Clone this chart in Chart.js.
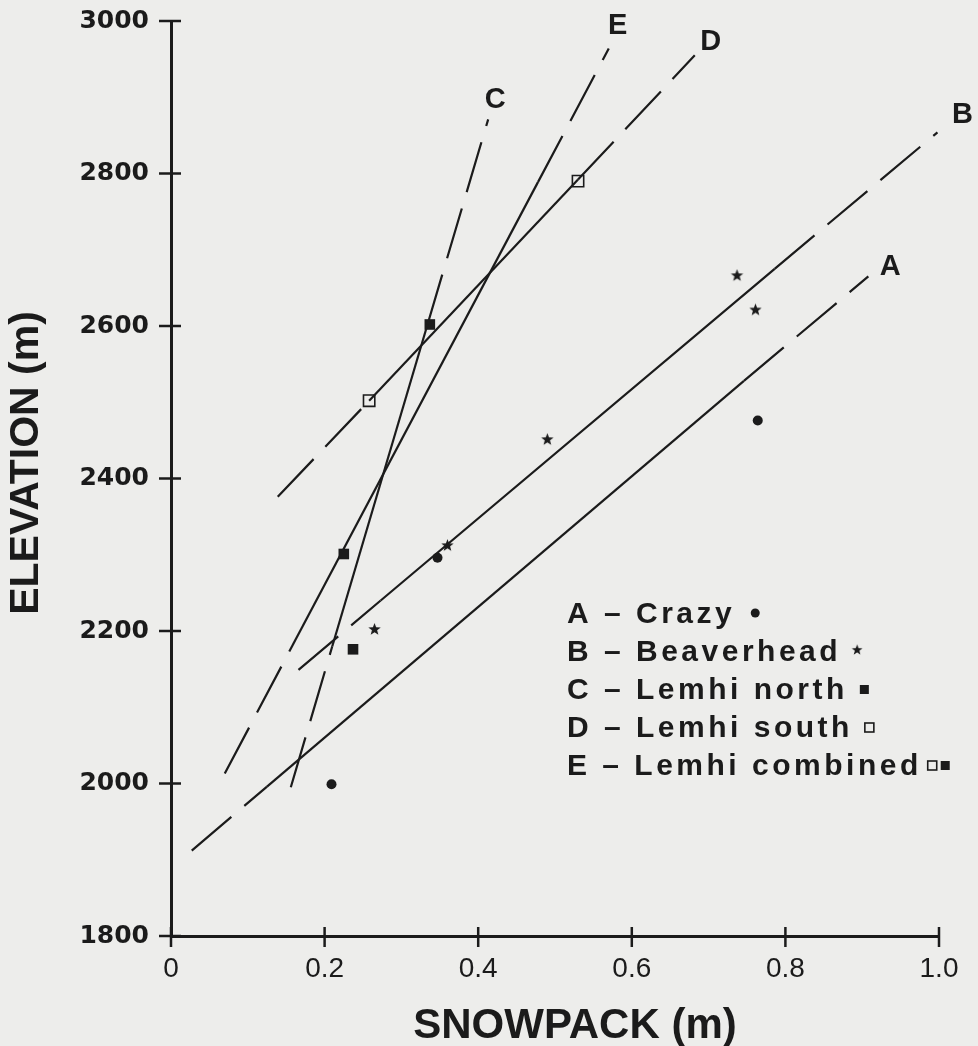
<!DOCTYPE html>
<html>
<head>
<meta charset="utf-8">
<script src="https://cdn.jsdelivr.net/npm/chart.js@4.4.0/dist/chart.umd.min.js"></script>
<style>
  html, body { margin: 0; padding: 0; background: #ededeb; }
  #wrap { width: 978px; height: 1046px; }
</style>
</head>
<body>
<div id="wrap"><canvas id="snow" width="978" height="1046"></canvas></div>
<script>
// observed sites: snowpack (m) against elevation (m)
const crazyX = [0.209, 0.347, 0.764];
const crazyY = [1999, 2296, 2476];
const beaverX = [0.265, 0.360, 0.490, 0.737, 0.761];
const beaverY = [2202, 2312, 2451, 2666, 2621];
const northX = [0.225, 0.237, 0.337];
const northY = [2301, 2176, 2602];
const southX = [0.258, 0.530];
const southY = [2502, 2790];

// fitted lines, each: dashed start, solid start, solid end, dashed end
const lineNames = ['A', 'B', 'C', 'D', 'E'];
const lineX = [
  [0.027, 0.125, 0.746, 0.908],
  [0.166, 0.273, 0.786, 0.998],
  [0.156, 0.210, 0.334, 0.413],
  [0.139, 0.258, 0.530, 0.682],
  [0.070, 0.154, 0.478, 0.570]
];
const lineY = [
  [1912, 1996, 2528, 2665],
  [2149, 2240, 2675, 2854],
  [1995, 2180, 2602, 2871],
  [2376, 2502, 2792, 2955],
  [2013, 2173, 2789, 2964]
];

const xTicks = [0, 0.2, 0.4, 0.6, 0.8, 1.0];
const xTickLabels = ['0', '0.2', '0.4', '0.6', '0.8', '1.0'];
const yTicks = [1800, 2000, 2200, 2400, 2600, 2800, 3000];

const legendItems = ['A – Crazy', 'B – Beaverhead', 'C – Lemhi north', 'D – Lemhi south', 'E – Lemhi combined'];

const INK = '#1b1b1b';
const SANS = '"Liberation Sans", Arial, sans-serif';

// little filled five point star used as the Beaverhead marker
function makeStar(r) {
    const s = Math.ceil(r * 2 + 2);
    const c = document.createElement('canvas');
    c.width = s;
    c.height = s;
    const g = c.getContext('2d');
    g.fillStyle = INK;
    g.beginPath();
    for (let i = 0; i < 10; i++) {
        const rad = i % 2 ? r * 0.42 : r;
        const a = -Math.PI / 2 + i * Math.PI / 5;
        g.lineTo(s / 2 + rad * Math.cos(a), s / 2 + rad * Math.sin(a));
    }
    g.closePath();
    g.fill();
    return c;
}

const starMark = makeStar(6.5);
const pts = (xs, ys) => xs.map((x, i) => ({ x: x, y: ys[i] }));

const datasets = lineX.map((xs, k) => ({
    label: 'Line ' + lineNames[k],
    data: pts(xs, lineY[k]),
    showLine: true,
    borderColor: INK,
    borderWidth: 2.2,
    pointRadius: 0,
    tension: 0,
    clip: false,
    segment: {
        borderDash: ctx => ctx.p0DataIndex === 1 ? [] : [52, 17]
    }
}));

datasets.push({
    label: 'Crazy', data: pts(crazyX, crazyY),
    pointStyle: 'circle', pointRadius: 5, backgroundColor: INK, borderColor: INK, borderWidth: 0
});
datasets.push({
    label: 'Beaverhead', data: pts(beaverX, beaverY),
    pointStyle: starMark, pointRadius: 7
});
datasets.push({
    label: 'Lemhi north', data: pts(northX, northY),
    pointStyle: 'rect', pointRadius: 7.5, backgroundColor: INK, borderColor: INK, borderWidth: 0
});
datasets.push({
    label: 'Lemhi south', data: pts(southX, southY),
    pointStyle: 'rect', pointRadius: 8, backgroundColor: 'rgba(0,0,0,0)', borderColor: INK, borderWidth: 1.6
});

// letter offsets next to the upper end of each fitted line
const letterShift = [[22, -9], [25, -17], [7, -19], [16, -13], [9, -22]];

const paperPlugin = {
    id: 'paper',
    afterDraw(chart) {
        const ctx = chart.ctx;
        const x = chart.scales.x;
        const y = chart.scales.y;
        ctx.save();

        // tick marks crossing both axes
        ctx.strokeStyle = INK;
        ctx.lineWidth = 2.5;
        yTicks.forEach(v => {
            const py = y.getPixelForValue(v);
            ctx.beginPath();
            ctx.moveTo(x.left - 12, py);
            ctx.lineTo(x.left + 10, py);
            ctx.stroke();
        });
        xTicks.forEach(v => {
            const px = x.getPixelForValue(v);
            ctx.beginPath();
            ctx.moveTo(px, y.bottom - 9);
            ctx.lineTo(px, y.bottom + 11);
            ctx.stroke();
        });

        // letters at line ends
        ctx.fillStyle = INK;
        ctx.font = 'bold 29px ' + SANS;
        ctx.textAlign = 'center';
        ctx.textBaseline = 'middle';
        lineNames.forEach((n, k) => {
            const last = lineX[k].length - 1;
            const px = x.getPixelForValue(lineX[k][last]);
            const py = y.getPixelForValue(lineY[k][last]);
            ctx.fillText(n, px + letterShift[k][0], py + letterShift[k][1]);
        });

        // legend
        ctx.textAlign = 'left';
        ctx.textBaseline = 'alphabetic';
        ctx.font = 'bold 30px ' + SANS;
        ctx.letterSpacing = '3.5px';
        legendItems.forEach((t, i) => {
            const bx = 567;
            const by = 623 + i * 38;
            ctx.fillText(t, bx, by);
            const end = bx + ctx.measureText(t).width;
            const my = by - 10;
            if (i === 0) {
                ctx.beginPath();
                ctx.arc(end + 20, my, 4.5, 0, Math.PI * 2);
                ctx.fill();
            } else if (i === 1) {
                ctx.drawImage(starMark, end + 16 - 6.5, my - 7.5, 13, 13);
            } else if (i === 2) {
                ctx.fillRect(end + 12, my - 4, 9, 9);
            } else if (i === 3) {
                ctx.lineWidth = 1.6;
                ctx.strokeRect(end + 12, my - 4, 9, 9);
            } else {
                ctx.lineWidth = 1.6;
                ctx.strokeRect(end + 6, my - 4, 9, 9);
                ctx.fillRect(end + 19, my - 4, 9, 9);
            }
        });
        ctx.letterSpacing = '0px';

        // axis titles
        ctx.textAlign = 'center';
        ctx.textBaseline = 'middle';
        ctx.font = 'bold 42px ' + SANS;
        ctx.fillText('SNOWPACK (m)', 575, 1026);
        ctx.translate(27, 463);
        ctx.rotate(-Math.PI / 2);
        ctx.font = 'bold 41px ' + SANS;
        ctx.fillText('ELEVATION (m)', 0, 0);

        ctx.restore();
    }
};

new Chart(document.getElementById('snow'), {
    type: 'scatter',
    data: { datasets: datasets },
    options: {
        responsive: false,
        animation: false,
        layout: { padding: { top: 21, right: 39, left: 0, bottom: 0 } },
        plugins: {
            legend: { display: false },
            tooltip: { enabled: false }
        },
        scales: {
            x: {
                type: 'linear',
                min: 0,
                max: 1,
                afterFit: s => { s.height = 110; s.paddingLeft = 0; s.paddingRight = 0; },
                afterBuildTicks: s => { s.ticks = xTicks.map(v => ({ value: v })); },
                grid: { display: false, drawTicks: false },
                border: { display: true, color: INK, width: 3 },
                ticks: {
                    padding: 16,
                    color: INK,
                    font: { family: SANS, size: 28 },
                    callback: (v, i) => xTickLabels[i]
                }
            },
            y: {
                type: 'linear',
                min: 1800,
                max: 3000,
                afterFit: s => { s.width = 171; s.paddingTop = 0; s.paddingBottom = 0; },
                afterBuildTicks: s => { s.ticks = yTicks.map(v => ({ value: v })); },
                grid: { display: false, drawTicks: false },
                border: { display: true, color: INK, width: 3 },
                ticks: {
                    padding: 22,
                    color: INK,
                    font: { family: '"DejaVu Sans", sans-serif', size: 25, weight: 'bold' },
                    callback: v => String(v)
                }
            }
        }
    },
    plugins: [paperPlugin]
});
</script>
</body>
</html>
